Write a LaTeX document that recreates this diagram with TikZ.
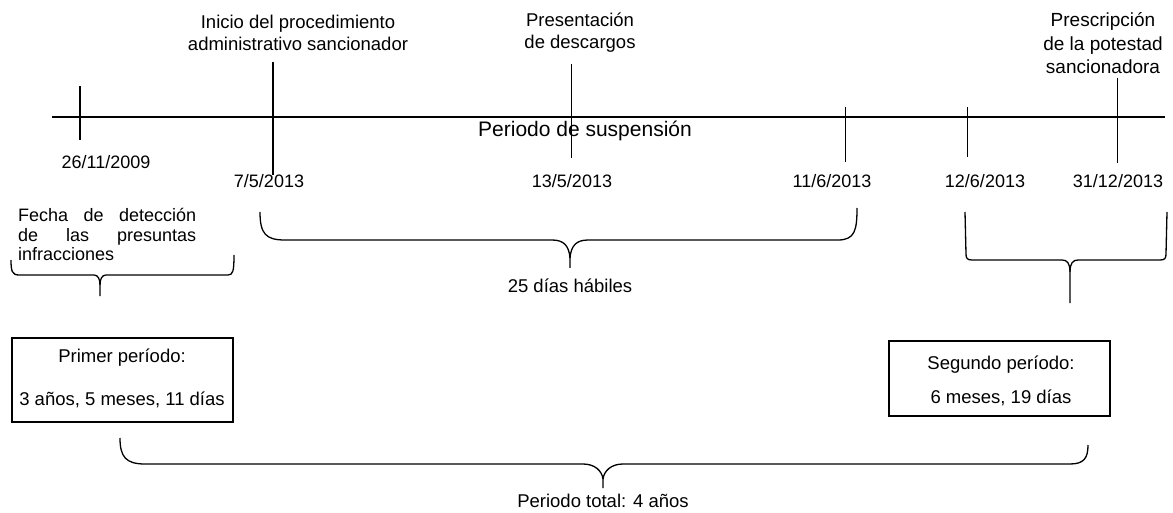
\documentclass[tikz,border=0pt]{standalone}
\usepackage{fontspec}
\setmainfont{Liberation Sans}
\begin{document}
\begin{tikzpicture}[x=1pt,y=-1pt,
  lbl/.style={font=\fontsize{18.5}{22}\selectfont, inner sep=0pt, anchor=base},
  dat/.style={font=\fontsize{18}{22}\selectfont, inner sep=0pt, anchor=base},
  big/.style={font=\fontsize{21}{25}\selectfont, inner sep=0pt, anchor=base},
  detl/.style={font=\fontsize{18}{20}\selectfont, inner sep=0pt, anchor=base west},
  ln/.style={line width=1.3pt, black},
  thin/.style={line width=1pt, black},
  pbox/.style={draw, line width=1.3pt}]
\useasboundingbox (0,0) rectangle (1173,513);
% timeline
\coordinate (tl0) at (52,117);
\coordinate (tl1) at (1165,117);
\draw[ln] (tl0) -- (tl1);
% ticks
\coordinate (a1) at (80,86);   \coordinate (a2) at (80,140);
\coordinate (b1) at (273,62);  \coordinate (b2) at (273,175);
\coordinate (c1) at (571,64);  \coordinate (c2) at (571,158);
\coordinate (d1) at (845,107); \coordinate (d2) at (845,162);
\coordinate (e1) at (967,107); \coordinate (e2) at (967,157);
\coordinate (f1) at (1117,78); \coordinate (f2) at (1117,163);
\draw[ln] (a1) -- (a2);
\draw[ln] (b1) -- (b2);
\draw[thin] (c1) -- (c2);
\draw[thin] (d1) -- (d2);
\draw[thin] (e1) -- (e2);
\draw[thin] (f1) -- (f2);
% top labels
\node[lbl] (ini1) at (298,29) {Inicio del procedimiento};
\node[lbl] (ini2) at (298,51) {administrativo sancionador};
\node[lbl] (pre1) at (580,27) {Presentación};
\node[lbl] (pre2) at (580,49) {de descargos};
\node[lbl, font=\fontsize{19}{23}\selectfont] (psc1) at (1103,27) {Prescripción};
\node[lbl, font=\fontsize{19}{23}\selectfont] (psc2) at (1103,51) {de la potestad};
\node[lbl, font=\fontsize{19}{23}\selectfont] (psc3) at (1103,74) {sancionadora};
\node[big] (susp) at (585,137) {Periodo de suspensión};
% dates
\node[dat] (d2009) at (106,169) {26/11/2009};
\node[dat] (d0705) at (269,188) {7/5/2013};
\node[dat] (d1305) at (572,188) {13/5/2013};
\node[dat] (d1106) at (832,188) {11/6/2013};
\node[dat] (d1206) at (985,188) {12/6/2013};
\node[dat] (d3112) at (1118,188) {31/12/2013};
% detection text
\node[detl] (det1) at (18,222) {\makebox[178pt][s]{Fecha de detección}};
\node[detl] (det2) at (18,242) {\makebox[178pt][s]{de las presuntas}};
\node[detl] (det3) at (18,261) {infracciones};
% brace 25 dias
\draw[ln] (260,212) .. controls (260,234) and (266,240) .. (285,240) -- (552,240)
  .. controls (564,240) and (569,246) .. (570,258) -- (570,268);
\draw[ln] (570,258) .. controls (571,246) and (576,240) .. (588,240) -- (838,240)
  .. controls (855,240) and (857,230) .. (857,208);
\node[lbl] (dias) at (570,292) {25 días hábiles};
% left brace
\draw[ln] (11,260) .. controls (11,271) and (12,275) .. (19,275) -- (94,275)
  .. controls (98,275) and (100,279) .. (100,285) -- (100,296);
\draw[ln] (100,285) .. controls (100,279) and (102,275) .. (106,275) -- (228,275)
  .. controls (233,275) and (234,271) .. (234,255);
% right brace
\draw[ln] (965,212) -- (966,254) .. controls (966,258) and (967,260) .. (972,260) -- (1062,260)
  .. controls (1067,260) and (1070,263) .. (1070,272) -- (1070,303);
\draw[ln] (1070,272) .. controls (1070,263) and (1073,260) .. (1078,260) -- (1160,260)
  .. controls (1165,260) and (1166,258) .. (1166,254) -- (1167,212);
% boxes
\draw[pbox] (12,338) rectangle (233,422);
\node[lbl] (p1a) at (122,362) {Primer período:};
\node[lbl] (p1b) at (122,405) {3 años, 5 meses, 11 días};
\draw[pbox] (889,341) rectangle (1110,416);
\node[lbl] (p2a) at (1001,369) {Segundo período:};
\node[lbl] (p2b) at (1001,403) {6 meses, 19 días};
% bottom brace
\draw[ln] (120,438) .. controls (120,457) and (126,464) .. (145,464) -- (583,464)
  .. controls (595,464) and (602,471) .. (603,479) -- (603,488);
\draw[ln] (603,479) .. controls (604,471) and (611,464) .. (623,464) -- (1070,464)
  .. controls (1084,464) and (1088,458) .. (1088,445);
\node[lbl] (tot) at (603,507) {Periodo total: 4 años};
\end{tikzpicture}
\end{document}
